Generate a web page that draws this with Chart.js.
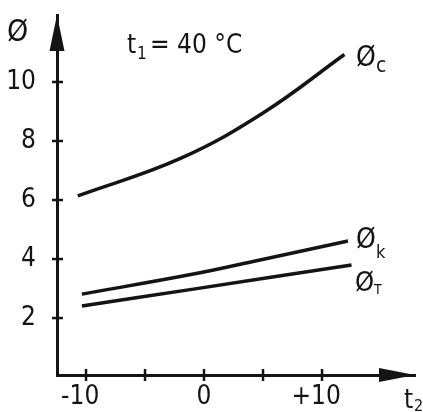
<!DOCTYPE html>
<html>
<head>
<meta charset="utf-8">
<script src="https://cdn.jsdelivr.net/npm/chart.js@4.4.0/dist/chart.umd.min.js"></script>
<style>
  html, body { margin: 0; background: #fff; }
  #wrap { width: 423px; height: 412px; }
</style>
</head>
<body>
<div id="wrap"><canvas id="chart"></canvas></div>
<script>
const FONT = '"Liberation Sans Narrow", "DejaVu Sans Condensed", "Liberation Sans", sans-serif';
const INK = '#141414';

// t2 (°C) and Ø values
const phiC_t2 = [-10.7, -2.0, 5.0, 11.9];
const phiC    = [6.14, 7.41, 8.95, 10.93];
const phiK_t2 = [-10.35, -0.9, 4.75, 12.2];
const phiK    = [2.81, 3.49, 3.97, 4.61];
const phiT_t2 = [-10.35, -0.9, 12.5];
const phiT    = [2.41, 2.98, 3.80];

const xTicks = [-10, -5, 0, 5, 10];
const yTicks = [2, 4, 6, 8, 10];
const xTickLabels = { '-10': '-10\u2002', '0': '0', '10': '+10\u2002' };

function toPoints(xs, ys) {
  return xs.map((x, i) => ({ x, y: ys[i] }));
}

function curve(label, xs, ys) {
  return {
    label,
    data: toPoints(xs, ys),
    borderColor: INK,
    borderWidth: 3.5,
    pointRadius: 0,
    fill: false,
    tension: 0.4,
  };
}

function drawPhi(ctx, x, baseline, size, sub, subSize, subDx, subDy) {
  ctx.font = `${size}px ${FONT}`;
  ctx.textAlign = 'left';
  ctx.textBaseline = 'alphabetic';
  ctx.fillText('\u00D8', x, baseline);
  if (sub) {
    ctx.font = `${subSize}px ${FONT}`;
    ctx.fillText(sub, x + subDx, baseline + subDy);
  }
}

const decorations = {
  id: 'decorations',
  afterDraw(chart) {
    const { ctx, chartArea: a, scales: { x, y } } = chart;
    const x0 = a.left, y0 = a.bottom;
    ctx.save();
    ctx.fillStyle = INK;
    ctx.strokeStyle = INK;

    // arrow heads
    ctx.beginPath();
    ctx.moveTo(x0, a.top);
    ctx.lineTo(x0 - 7.5, a.top + 36);
    ctx.lineTo(x0 + 7.5, a.top + 36);
    ctx.closePath();
    ctx.fill();
    ctx.beginPath();
    ctx.moveTo(a.right, y0);
    ctx.lineTo(a.right - 36, y0 - 7);
    ctx.lineTo(a.right - 36, y0 + 7);
    ctx.closePath();
    ctx.fill();

    // tick marks crossing the axes
    ctx.lineWidth = 2.5;
    yTicks.forEach(v => {
      const py = y.getPixelForValue(v);
      ctx.beginPath();
      ctx.moveTo(x0 - 5, py);
      ctx.lineTo(x0 + 6, py);
      ctx.stroke();
    });
    xTicks.forEach(v => {
      const px = x.getPixelForValue(v);
      ctx.beginPath();
      ctx.moveTo(px, y0 - 6);
      ctx.lineTo(px, y0 + 6);
      ctx.stroke();
    });

    // axis titles
    drawPhi(ctx, 7, 41, 30);
    ctx.font = `26px ${FONT}`;
    ctx.fillText('t', a.right - 11, 408);
    ctx.font = `16px ${FONT}`;
    ctx.fillText('2', a.right - 1, 411);

    // condition
    ctx.font = `26px ${FONT}`;
    ctx.fillText('t', 127, 53);
    ctx.font = `17px ${FONT}`;
    ctx.fillText('1', 137, 59);
    ctx.font = `26px ${FONT}`;
    ctx.fillText('= 40 \u00B0C', 150, 53);

    // curve labels
    drawPhi(ctx, 356, 66, 28, 'c', 21, 20, 6);
    drawPhi(ctx, 356, 248, 28, 'k', 18, 20, 10);
    drawPhi(ctx, 355, 291, 27, 'T', 14, 19, 3);

    ctx.restore();
  },
};

new Chart(document.getElementById('chart'), {
  type: 'line',
  data: {
    datasets: [
      curve('\u00D8c', phiC_t2, phiC),
      curve('\u00D8k', phiK_t2, phiK),
      curve('\u00D8T', phiT_t2, phiT),
    ],
  },
  options: {
    responsive: true,
    maintainAspectRatio: false,
    animation: false,
    layout: { padding: { top: 15, right: 8, left: 0, bottom: 0 } },
    plugins: { legend: { display: false }, tooltip: { enabled: false } },
    scales: {
      x: {
        type: 'linear',
        min: -12.46,
        max: 17.88,
        afterBuildTicks: s => { s.ticks = xTicks.map(value => ({ value })); },
        afterFit: s => {
          s.height = 37;
          s.paddingLeft = 0;
          s.paddingRight = 0;
        },
        grid: { display: false, drawTicks: false },
        border: { display: true, color: INK, width: 3 },
        ticks: {
          padding: 7,
          color: INK,
          font: { family: FONT, size: 26 },
          maxRotation: 0,
          autoSkip: false,
          callback: v => xTickLabels[String(v)] || '',
        },
      },
      y: {
        type: 'linear',
        min: 0.07,
        max: 12.27,
        afterBuildTicks: s => { s.ticks = yTicks.map(value => ({ value })); },
        afterFit: s => {
          s.width = 57;
          s.paddingTop = 0;
          s.paddingBottom = 0;
        },
        grid: { display: false, drawTicks: false },
        border: { display: true, color: INK, width: 3 },
        ticks: {
          padding: 21,
          color: INK,
          font: { family: FONT, size: 26 },
          callback: v => String(v),
        },
      },
    },
  },
  plugins: [decorations],
});
</script>
</body>
</html>
